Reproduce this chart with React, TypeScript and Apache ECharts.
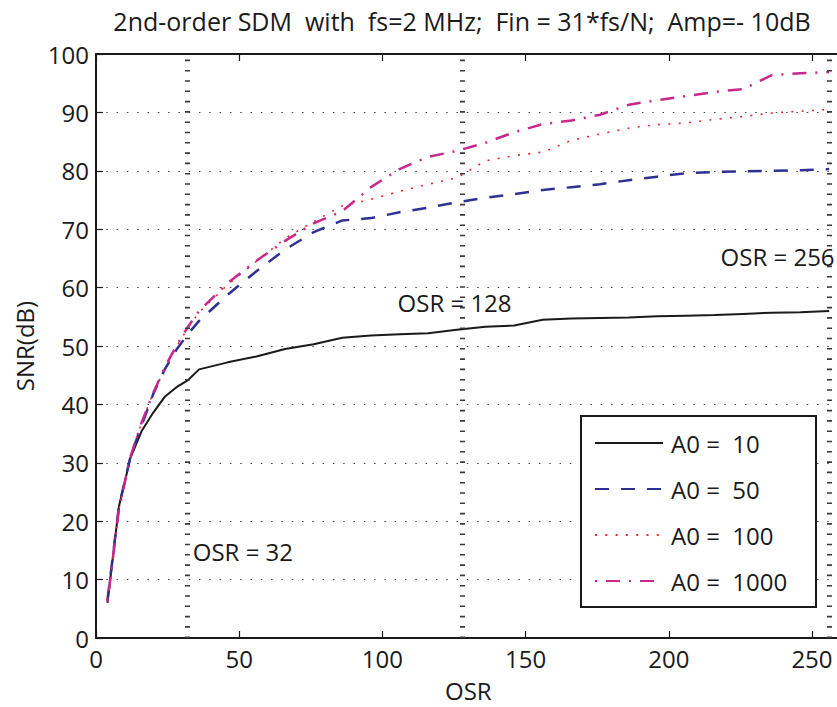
import React, { useEffect, useRef } from 'react';
import * as echarts from 'echarts';

// Oversampling ratios (x values)
const osr = [4, 8, 12, 16, 20, 24, 28, 32, 36, 46, 56, 66, 76, 86, 96, 106, 116, 126, 136, 146, 156, 166, 176, 186, 196, 206, 216, 226, 236, 246, 256];

// SNR (dB) for each amplifier gain A0
const snrA0_10 = [6.0, 22.5, 30.8, 35.5, 38.6, 41.3, 42.9, 44.1, 46.0, 47.2, 48.2, 49.5, 50.3, 51.4, 51.8, 52.0, 52.2, 52.8, 53.3, 53.5, 54.5, 54.7, 54.8, 54.9, 55.1, 55.2, 55.3, 55.5, 55.7, 55.8, 56.0];
const snrA0_50 = [6.5, 22.5, 31.0, 36.5, 41.8, 46.0, 49.3, 52.0, 54.3, 58.8, 62.8, 66.5, 69.5, 71.5, 71.9, 72.9, 73.7, 74.6, 75.4, 76.0, 76.7, 77.2, 77.7, 78.4, 79.0, 79.6, 79.8, 79.9, 80.0, 80.1, 80.3];
const snrA0_100 = [6.5, 22.0, 31.0, 37.0, 42.0, 46.0, 49.8, 53.0, 55.8, 60.5, 64.5, 68.4, 71.3, 74.0, 75.1, 76.5, 77.7, 78.8, 81.7, 82.6, 83.2, 85.2, 86.3, 87.3, 87.9, 88.2, 88.8, 89.3, 89.9, 90.2, 90.5];
const snrA0_1000 = [6.2, 22.0, 31.0, 37.0, 42.0, 46.3, 50.0, 53.2, 56.0, 60.8, 64.6, 68.0, 71.0, 73.1, 77.2, 80.3, 82.4, 83.4, 84.8, 86.6, 88.0, 88.6, 89.6, 91.3, 92.1, 92.8, 93.5, 94.0, 96.4, 96.7, 96.9];

const seriesNames = ['A0 =  10', 'A0 =  50', 'A0 =  100', 'A0 =  1000'];
const seriesColors = ['#1a1a1a', '#2e3192', '#f0282d', '#c8288e'];

// Reference OSR lines and their annotations (annotation centres in data units)
const refLines = [32, 128, 256];
const annText = ['OSR = 32', 'OSR = 128', 'OSR = 256'];
const annX = [51.3, 125.2, 238];
const annY = [14.8, 57.4, 65.4];

const titleText = '2nd-order SDM  with  fs=2 MHz;  Fin = 31*fs/N;  Amp=- 10dB';

export default function App() {
  const ref = useRef<HTMLDivElement>(null);
  useEffect(() => {
    const chart = echarts.init(ref.current!, null, { renderer: 'svg' });
    const font = 'Open Sans';
    const txt = '#1a1a1a';
    const pairs = (vals: number[]) => osr.map((x, i) => [x, vals[i]]);
    const styles: any[] = [
      { color: seriesColors[0], width: 2, type: 'solid' },
      { color: seriesColors[1], width: 2.5, type: [14, 12] },
      { color: seriesColors[2], width: 1.6, type: [2, 8.3] },
      { color: seriesColors[3], width: 2.5, type: [2, 9, 14, 9] },
    ];
    const data = [snrA0_10, snrA0_50, snrA0_100, snrA0_1000];
    const lineSeries = data.map((vals, k) => ({
      name: seriesNames[k],
      type: 'line',
      data: pairs(vals),
      symbol: 'none',
      showSymbol: false,
      lineStyle: styles[k],
      itemStyle: { color: seriesColors[k] },
      z: 2 + k * 0.1,
      ...(k === 0
        ? {
            markLine: {
              silent: true,
              symbol: ['none', 'none'],
              label: { show: false },
              lineStyle: { color: '#3a3a3a', width: 5, type: [1.6, 8.7] },
              data: refLines.map((v) => ({ xAxis: v })),
            },
          }
        : {}),
    }));

    chart.setOption({
      animation: false,
      backgroundColor: '#ffffff',
      title: {
        text: titleText,
        left: 462,
        top: 8,
        padding: 0,
        textAlign: 'center',
        textStyle: { fontFamily: font, fontSize: 25, fontWeight: 'normal', color: txt },
      },
      grid: { left: 96, top: 54, width: 744.6, height: 588 },
      xAxis: [
        {
          type: 'value',
          min: 0,
          max: 260,
          interval: 50,
          name: 'OSR',
          nameLocation: 'middle',
          nameGap: 40,
          nameTextStyle: { fontFamily: font, fontSize: 24, color: txt },
          axisLine: { show: true, lineStyle: { color: txt, width: 2 } },
          axisTick: { show: true, inside: true, length: 7, lineStyle: { color: txt, width: 1.2 } },
          axisLabel: { fontFamily: font, fontSize: 24, color: txt, margin: 8, showMaxLabel: false },
          splitLine: { show: false },
        },
        {
          type: 'value',
          position: 'top',
          min: 0,
          max: 260,
          interval: 50,
          axisLine: { show: true, lineStyle: { color: txt, width: 2 } },
          axisTick: { show: true, inside: true, length: 7, lineStyle: { color: txt, width: 1.2 } },
          axisLabel: { show: false },
          splitLine: { show: false },
        },
      ],
      yAxis: {
        type: 'value',
        min: 0,
        max: 100,
        interval: 10,
        name: 'SNR(dB)',
        nameLocation: 'middle',
        nameGap: 60,
        nameTextStyle: { fontFamily: font, fontSize: 24, color: txt },
        axisLine: { show: true, lineStyle: { color: txt, width: 2 } },
        axisTick: { show: true, inside: true, length: 7, lineStyle: { color: txt, width: 1.2 } },
        axisLabel: { fontFamily: font, fontSize: 24, color: txt, margin: 7 },
        splitLine: { show: true, lineStyle: { color: '#444', width: 1.2, type: [1.5, 8.8] } },
      },
      legend: {
        data: seriesNames,
        orient: 'vertical',
        left: 594,
        top: 428,
        padding: 0,
        itemWidth: 68,
        itemHeight: 14,
        itemGap: 16,
        selectedMode: false,
        itemStyle: { opacity: 0 },
        textStyle: { fontFamily: font, fontSize: 24, color: txt, lineHeight: 30, padding: [0, 0, 0, 3] },
      },
      graphic: [
        {
          type: 'rect',
          z: 3,
          shape: { x: 581, y: 416, width: 235, height: 191 },
          style: { fill: '#ffffff', stroke: txt, lineWidth: 2 },
        },
      ],
      series: [
        ...lineSeries,
        {
          type: 'scatter',
          name: 'annotations',
          symbolSize: 1,
          itemStyle: { color: 'rgba(0,0,0,0)', opacity: 1 },
          z: 5,
          data: annX.map((x, i) => [x, annY[i]]),
          label: {
            show: true,
            position: 'inside',
            formatter: (p: any) => annText[p.dataIndex],
            fontFamily: font,
            fontSize: 24,
            color: txt,
            opacity: 1,
            textBorderWidth: 0,
          },
        },
      ],
    });
    return () => chart.dispose();
  }, []);
  return (
    <div style={{ position: 'absolute', left: 0, top: 0, width: 837, height: 707, overflow: 'hidden', background: '#fff' }}>
      <div ref={ref} style={{ width: 850, height: 707 }} />
    </div>
  );
}
